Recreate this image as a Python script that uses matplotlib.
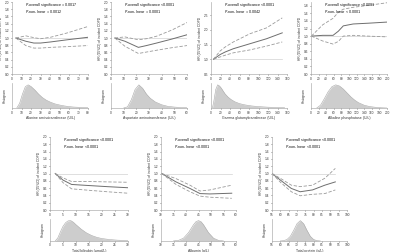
import matplotlib
matplotlib.use("Agg")
import matplotlib.pyplot as plt

W, H = 400, 252
plt.rcParams["font.family"] = ["Liberation Sans", "DejaVu Sans"]

# ---- data ----
# spline curves: x, HR, lower CI, upper CI
alt_x = [4, 14.5, 23, 30, 40.5, 58, 80]
alt_hr = [1.0, 0.91, 0.86, 0.86, 0.89, 0.95, 1.02]
alt_lo = [1.0, 0.79, 0.72, 0.72, 0.74, 0.76, 0.79]
alt_hi = [1.0, 1.06, 1.01, 0.98, 1.02, 1.14, 1.32]

ast_x = [3, 11, 21.6, 28, 36, 48, 60]
ast_hr = [1.0, 0.91, 0.74, 0.79, 0.86, 0.97, 1.09]
ast_lo = [1.0, 0.77, 0.57, 0.61, 0.66, 0.73, 0.79]
ast_hi = [1.0, 1.03, 0.95, 0.98, 1.05, 1.22, 1.43]

ggt_x = [5, 19, 30, 47, 82, 117, 150]
ggt_hr = [1.0, 1.16, 1.25, 1.36, 1.53, 1.70, 1.90]
ggt_lo = [1.0, 1.08, 1.14, 1.22, 1.32, 1.45, 1.59]
ggt_hi = [1.0, 1.28, 1.42, 1.59, 1.87, 2.07, 2.41]

alp_x = [1, 31, 58, 72, 85, 111, 150, 200]
alp_hr = [1.0, 1.02, 1.02, 1.13, 1.27, 1.32, 1.34, 1.37]
alp_lo = [1.0, 0.87, 0.79, 0.86, 1.0, 1.02, 1.0, 0.98]
alp_hi = [1.0, 1.30, 1.47, 1.63, 1.71, 1.76, 1.81, 1.88]

bil_x = [2, 5, 8.3, 15, 22, 30]
bil_hr = [1.0, 0.82, 0.70, 0.67, 0.64, 0.61]
bil_lo = [1.0, 0.75, 0.58, 0.54, 0.50, 0.46]
bil_hi = [1.0, 0.88, 0.78, 0.78, 0.77, 0.76]

alb_x = [30.3, 36, 41.6, 45.6, 49.6, 58.3]
alb_hr = [1.0, 0.77, 0.59, 0.45, 0.44, 0.46]
alb_lo = [1.0, 0.70, 0.50, 0.38, 0.35, 0.32]
alb_hi = [1.0, 0.86, 0.68, 0.52, 0.55, 0.68]

tp_x = [55, 60.3, 66.6, 71.9, 79.3, 86.7, 93]
tp_hr = [1.0, 0.81, 0.59, 0.50, 0.55, 0.68, 0.77]
tp_lo = [1.0, 0.75, 0.50, 0.39, 0.43, 0.45, 0.55]
tp_hi = [1.0, 0.86, 0.68, 0.64, 0.68, 0.87, 1.14]

# histogram outlines: x, relative height
alt_hx = [5, 8, 11, 14, 17, 20, 24, 28, 32, 36, 40, 45, 50, 55, 60, 65, 70, 75, 80]
alt_hh = [0, 0.2, 0.6, 0.92, 1.0, 0.93, 0.78, 0.6, 0.45, 0.34, 0.26, 0.18, 0.13, 0.09, 0.06, 0.04, 0.03, 0.02, 0.01]
ast_hx = [10, 13, 16, 19, 22, 25, 28, 31, 35, 40, 45, 50, 55, 60]
ast_hh = [0, 0.05, 0.35, 0.8, 1.0, 0.85, 0.6, 0.42, 0.26, 0.14, 0.07, 0.04, 0.02, 0.01]
ggt_hx = [3, 6, 10, 14, 18, 22, 26, 30, 36, 42, 50, 60, 70, 85, 100, 120, 140, 155]
ggt_hh = [0, 0.3, 0.8, 1.0, 0.95, 0.85, 0.72, 0.6, 0.47, 0.37, 0.27, 0.19, 0.14, 0.09, 0.06, 0.035, 0.02, 0.01]
alp_hx = [15, 25, 35, 45, 55, 65, 75, 85, 95, 105, 115, 125, 140, 155, 170, 185, 200]
alp_hh = [0, 0.12, 0.4, 0.7, 0.92, 1.0, 0.95, 0.82, 0.65, 0.48, 0.34, 0.23, 0.12, 0.06, 0.03, 0.01, 0]
bil_hx = [2, 3, 4, 5, 6, 7, 8, 9, 10, 12, 14, 16, 18, 20, 23, 26, 30]
bil_hh = [0, 0.15, 0.45, 0.72, 0.9, 0.99, 1.0, 0.92, 0.8, 0.58, 0.4, 0.27, 0.18, 0.12, 0.07, 0.04, 0.02]
alb_hx = [35, 37, 39, 41, 43, 44, 45, 46, 47, 49, 51, 53, 55]
alb_hh = [0.004, 0.03, 0.14, 0.41, 0.8, 0.95, 1.0, 0.95, 0.8, 0.41, 0.14, 0.03, 0.004]
tp_hx = [60, 62, 64, 66, 68, 70, 72, 74, 76, 78, 80, 82, 84]
tp_hh = [0.003, 0.017, 0.073, 0.23, 0.52, 0.85, 1.0, 0.85, 0.52, 0.23, 0.073, 0.017, 0.003]

panels = [
    # curve, hist, xlabel, xticks, yticks, ylim, p texts, (left, right, row)
    ((alt_x, alt_hr, alt_lo, alt_hi), (alt_hx, alt_hh), "Alanine aminotransferase (U/L)",
     range(0, 81, 10), [i / 10 for i in range(0, 21, 2)], (0, 2.0),
     ("= 0.0017", "= 0.0012"), (12, 88, 0)),
    ((ast_x, ast_hr, ast_lo, ast_hi), (ast_hx, ast_hh), "Aspartate aminotransferase (U/L)",
     range(0, 61, 10), [i / 10 for i in range(0, 21, 2)], (0, 2.0),
     ("<0.0001", "= 0.0001"), (111, 187, 0)),
    ((ggt_x, ggt_hr, ggt_lo, ggt_hi), (ggt_hx, ggt_hh), "Gamma glutamyltransferase (U/L)",
     range(0, 161, 20), [0.5, 1.0, 1.5, 2.0, 2.5], (0.5, 2.95),
     ("<0.0001", "= 0.0042"), (211, 287, 0)),
    ((alp_x, alp_hr, alp_lo, alp_hi), (alp_hx, alp_hh), "Alkaline phosphatase (U/L)",
     range(0, 201, 20), [i / 10 for i in range(0, 19, 2)], (0, 1.9),
     ("<0.0001", "< 0.0001"), (311, 387, 0)),
    ((bil_x, bil_hr, bil_lo, bil_hi), (bil_hx, bil_hh), "Total bilirubin (\u03bcmol/L)",
     range(0, 31, 5), [i / 10 for i in range(0, 21, 2)], (0, 2.0),
     ("<0.0001", "<0.0001"), (50, 128, 1)),
    ((alb_x, alb_hr, alb_lo, alb_hi), (alb_hx, alb_hh), "Albumin (g/L)",
     range(30, 61, 5), [i / 10 for i in range(0, 21, 2)], (0, 2.0),
     ("<0.0001", "<0.0001"), (161, 236, 1)),
    ((tp_x, tp_hr, tp_lo, tp_hi), (tp_hx, tp_hh), "Total protein (g/L)",
     range(55, 101, 5), [i / 10 for i in range(0, 21, 2)], (0, 2.0),
     ("<0.0001", "<0.0001"), (272, 347, 1)),
]

# vertical pixel bands: (main top, main bottom, hist top, hist bottom)
rows = [(2, 74, 83, 108), (137, 210, 219, 241)]

spine_c = "#b0b0b0"
txt_c = "#333333"
fs = 2.3

fig = plt.figure(figsize=(W / 100, H / 100), dpi=100)


def box(l, t, r, b):
    return [l / W, 1 - b / H, (r - l) / W, (b - t) / H]


def style(ax):
    for s in ["top", "right"]:
        ax.spines[s].set_visible(False)
    for s in ["left", "bottom"]:
        ax.spines[s].set_color(spine_c)
        ax.spines[s].set_linewidth(0.5)
    ax.tick_params(labelsize=fs, length=1.0, width=0.4, pad=0.8, colors=txt_c)


for curve, hist, xlabel, xticks, yticks, ylim, ptxt, (l, r, row) in panels:
    mt, mb, ht, hb = rows[row]
    xticks = list(xticks)
    xlim = (xticks[0], xticks[-1])

    ax = fig.add_axes(box(l, mt, r, mb))
    style(ax)
    cx, hr, lo, hi = curve
    ax.plot([cx[0], cx[-1]], [1, 1], color="#d2d2d2", lw=0.5)
    ax.plot(cx, hr, color="#6e6e6e", lw=0.7)
    ax.plot(cx, lo, color="#9a9a9a", lw=0.6, ls=(0, (4, 2)))
    ax.plot(cx, hi, color="#9a9a9a", lw=0.6, ls=(0, (4, 2)))
    ax.set_xlim(xlim)
    ax.set_ylim(ylim)
    ax.set_xticks(xticks)
    ax.set_yticks(yticks)
    ax.set_yticklabels(["%.1f" % v for v in yticks])
    ax.set_ylabel("HR (95%CI) of incident COPD", fontsize=fs, color=txt_c, labelpad=1)
    ax.text(0.17, 1.01, r"$\it{P}$-overall significance " + ptxt[0], transform=ax.transAxes,
            fontsize=2.7, color="#111111", va="top")
    ax.text(0.17, 0.92, r"$\it{P}$-non-linear " + ptxt[1], transform=ax.transAxes,
            fontsize=2.7, color="#111111", va="top")

    hx = fig.add_axes(box(l, ht, r, hb))
    style(hx)
    hxs, hhs = hist
    hx.fill_between(hxs, 0, hhs, color="#cdcdcd", lw=0)
    hx.plot(hxs, hhs, color="#a8a8a8", lw=0.4)
    hx.set_xlim(xlim)
    hx.set_ylim(0, 1.08)
    hx.set_xticks(xticks)
    hx.set_yticks([])
    hx.set_ylabel("Histogram", fontsize=fs, color=txt_c, labelpad=4)
    hx.set_xlabel(xlabel, fontsize=fs + 0.2, color=txt_c, labelpad=1)

fig.savefig("out.png", dpi=100, facecolor="white")
